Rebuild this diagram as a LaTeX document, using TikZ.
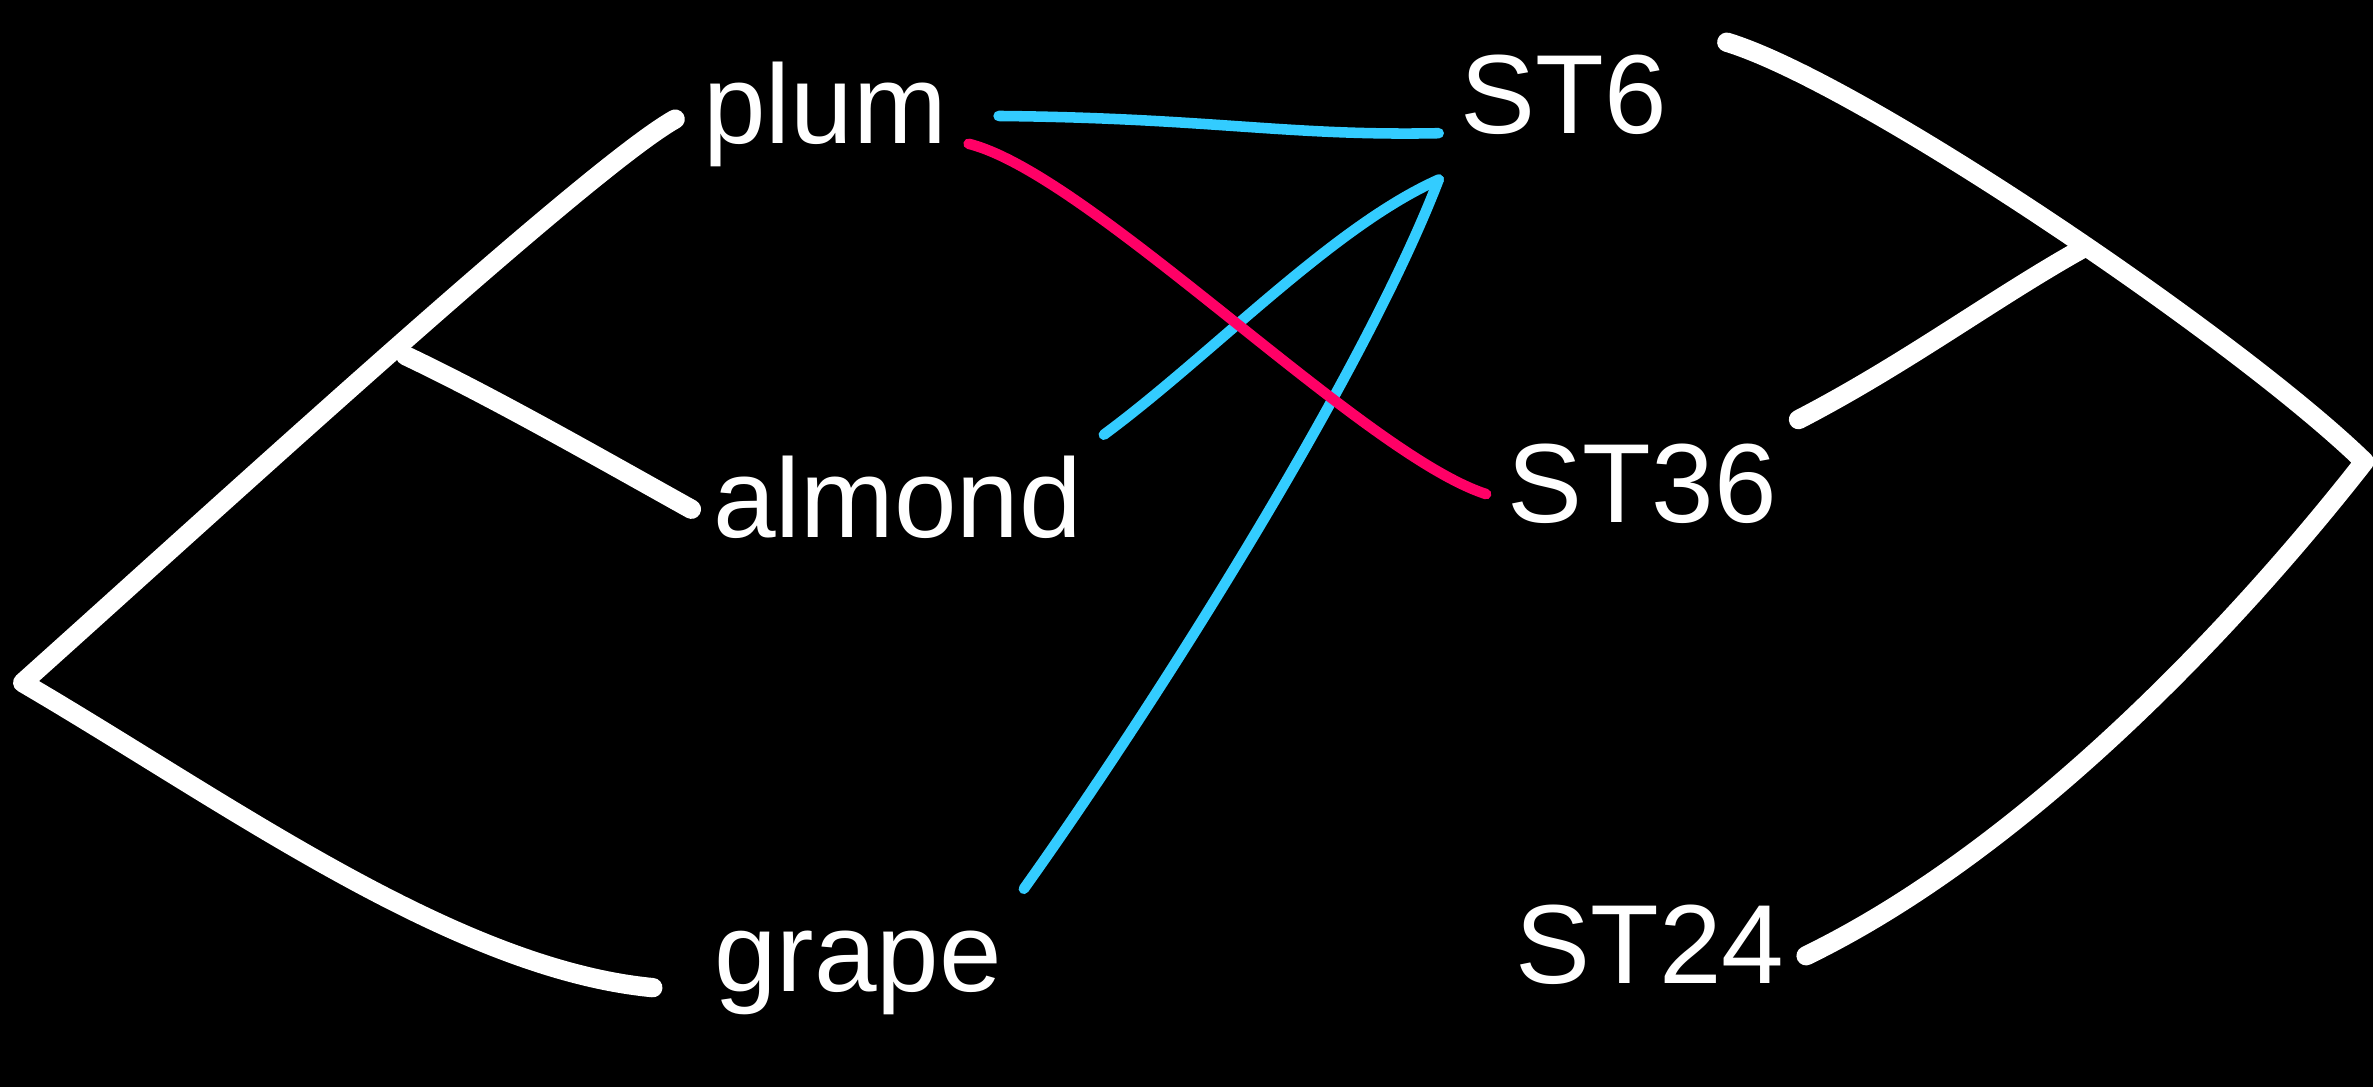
\documentclass[tikz,border=0pt]{standalone}
\usepackage{fontspec}
\setmainfont{Liberation Sans}
\usetikzlibrary{arrows.meta}
\definecolor{InkCyan}{RGB}{51,204,255}
\definecolor{InkPink}{RGB}{255,0,102}

\begin{document}
\begin{tikzpicture}[x=0.01514cm,y=-0.01514cm,
    word/.style={text=white,inner sep=6pt,text height=23pt,text depth=7pt,
      anchor=base,font=\fontsize{32}{38}\selectfont},
    brace/.style={white,line width=5.5pt,line cap=round,line join=round},
    ink/.style={line width=3pt,line cap=round}]
  \fill[black] (0,0) rectangle (1568,718);
  % fruits
  \node[word] (plum) at (545,95) {plum};
  \node[word] (almond) at (593,355) {almond};
  \node[word] (grape) at (567,655) {grape};
  % types
  \node[word] (st6) at (1033,88) {ST6};
  \node[word] (st36) at (1085,345) {ST36};
  \node[word] (st24) at (1090,650) {ST24};
  \coordinate (lroot) at (15,451);
  \coordinate (lfree) at (268,235);
  \coordinate (rroot) at (1562,305);
  \coordinate (rfree) at (1378,163);
  % brackets
  \draw[brace,shorten <=2pt,shorten >=0.4cm] (plum.west) .. controls (390,110) and (150,330) .. (lroot)
    .. controls (150,530) and (300,640) .. (grape.base west);
  \draw[brace] (almond.west) .. controls (395,302) and (325,262) .. (lfree);
  \draw[brace,shorten <=0.4cm] (st6.north east) .. controls (1230,55) and (1480,225) .. (rroot)
    .. controls (1480,410) and (1340,560) .. (st24.east);
  \draw[brace] (st36.north east) .. controls (1260,240) and (1320,195) .. (rfree);
  % links
  \draw[ink,InkCyan,shorten <=0.3cm] (plum.east) .. controls (800,78) and (850,90) .. (st6.base west);
  \draw[ink,InkCyan] (almond.north east) .. controls (800,235) and (880,150) .. (st6.south west);
  \draw[ink,InkCyan] (grape.north east) .. controls (760,470) and (900,250) .. (st6.south west);
  \draw[ink,InkPink] (plum.base east) .. controls (720,115) and (900,300) .. (st36.west);
\end{tikzpicture}
\end{document}
